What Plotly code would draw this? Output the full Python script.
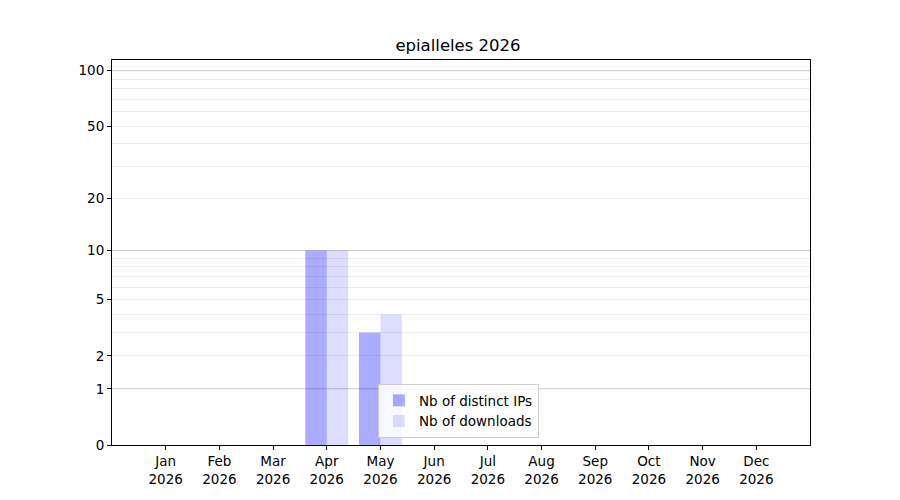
import numpy as np
import plotly.graph_objects as go

months = ["Jan", "Feb", "Mar", "Apr", "May", "Jun", "Jul", "Aug", "Sep", "Oct", "Nov", "Dec"]
year = "2026"
distinct_ips = [0, 0, 0, 10, 3, 0, 0, 0, 0, 0, 0, 0]
downloads = [0, 0, 0, 10, 4, 0, 0, 0, 0, 0, 0, 0]
ytick_values = [0, 1, 2, 5, 10, 20, 50, 100]
ymax_value = 114.2


def tr(v):
    return np.log10(1 + np.asarray(v, dtype=float))


x = list(range(len(months)))
ticktext = [f"{m}<br>{year}" for m in months]

minor_vals = [v for v in list(range(2, 10)) + list(range(20, 100, 10))]
major_grid = [1, 10, 100]

fig = go.Figure()
fig.add_trace(go.Bar(x=x, y=tr(distinct_ips), name="Nb of distinct IPs",
                     marker=dict(color="rgba(0,0,255,0.33)", line=dict(width=0))))
fig.add_trace(go.Bar(x=x, y=tr(downloads), name="Nb of downloads",
                     marker=dict(color="rgba(0,0,255,0.135)", line=dict(width=0))))

shapes = []
for v in major_grid:
    shapes.append(dict(type="line", xref="paper", x0=0, x1=1, yref="y",
                       y0=float(tr(v)), y1=float(tr(v)),
                       line=dict(color="#cccccc", width=1), layer="below"))

fig.update_layout(
    width=900, height=500,
    paper_bgcolor="white", plot_bgcolor="white",
    font=dict(family="DejaVu Sans", size=13.5, color="black"),
    title=dict(text="epialleles 2026", x=0.5, xanchor="center", y=0.926, yanchor="middle",
               font=dict(size=16.5)),
    margin=dict(l=104, r=98, t=52, b=63),
    barmode="group", bargap=0.2, bargroupgap=0,
    showlegend=True,
    legend=dict(x=0.381, y=0.018, xanchor="left", yanchor="bottom",
                bgcolor="rgba(255,255,255,0.8)", bordercolor="#cccccc", borderwidth=1,
                font=dict(size=13.5), tracegroupgap=0),
    shapes=shapes,
    xaxis=dict(range=[-1, 12], tickmode="array", tickvals=x, ticktext=ticktext,
               showgrid=False, zeroline=False, showline=True, linecolor="black",
               linewidth=1, mirror=True, ticks="outside", ticklen=4, tickcolor="black"),
    yaxis=dict(range=[0, float(tr(ymax_value))], tickmode="array",
               tickvals=[float(t) for t in tr(ytick_values)],
               ticktext=[str(v) for v in ytick_values],
               showgrid=False, zeroline=False, showline=True, linecolor="black",
               linewidth=1, mirror=True, ticks="outside", ticklen=4, tickcolor="black",
               minor=dict(tickvals=[float(t) for t in tr(minor_vals)], showgrid=True,
                          gridcolor="#eeeeee", gridwidth=1, ticks="")),
)

fig.write_html("out.html")
